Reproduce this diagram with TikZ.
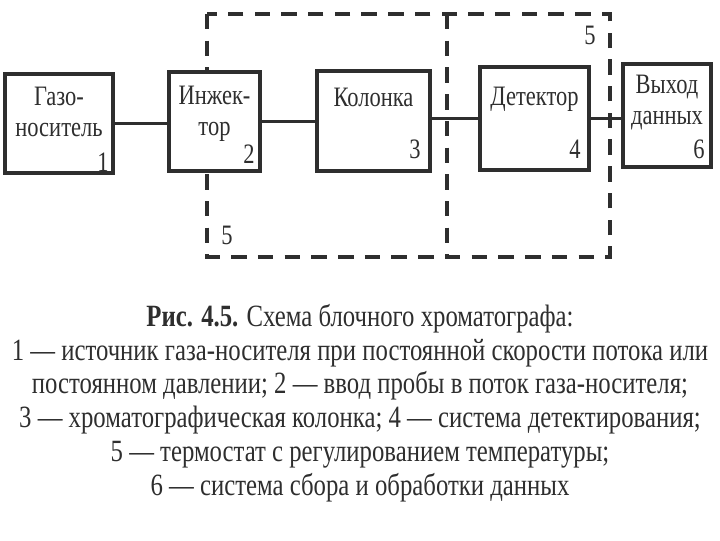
\documentclass[tikz,border=0pt]{standalone}
\usepackage{fontspec}
\setmainfont{Liberation Serif}[FakeStretch=0.8]
\usetikzlibrary{positioning}
\definecolor{ink}{HTML}{2E2E2E}

\begin{document}
\begin{tikzpicture}[x=0.025cm, y=-0.025cm,
  every node/.style={font=\fontsize{20}{22}\selectfont, text=ink},
  block/.style={draw=ink, fill=white, line width=2.8pt, inner sep=0pt},
  thermo/.style={draw=ink, line width=2.2pt, dash pattern=on 11pt off 8pt},
  link/.style={draw=ink, line width=2.2pt}]

\useasboundingbox[fill=white] (0,0) rectangle (720,540);

% thermostat 5 (dashed frame)
\coordinate (topleft) at (207,14);
\coordinate (topmid) at (447,14);
\coordinate (botmid) at (447,257);
\coordinate (botright) at (610,257);
\draw[thermo] (topleft) rectangle (botright);
\draw[thermo] (topmid) -- (botmid);
\node (thermoA) at (590,35) {5};
\node (thermoB) at (227,235) {5};

% carrier gas 1
\node[block, minimum width=2.7cm, minimum height=2.475cm] (gas) at (59,123.5) {};
\node[align=center, below=7pt of gas.north] (gastext) {Газо-\\носитель};
\node (gasnum) at ([shift={(-12,-13)}]gas.south east) {1};

% injector 2
\node[block, minimum width=2.275cm, minimum height=2.475cm] (injector) at (214.5,121.5) {};
\node[align=center, below=8pt of injector.north] (injtext) {Инжек-\\тор};
\node (injnum) at ([shift={(-13,-19)}]injector.south east) {2};

% column 3
\node[block, minimum width=2.825cm, minimum height=2.5cm] (column) at (373.5,121) {};
\node[below=10pt of column.north] (coltext) {Колонка};
\node (colnum) at ([shift={(-17,-24)}]column.south east) {3};

% detector 4
\node[block, minimum width=2.725cm, minimum height=2.575cm] (detector) at (534.5,118.5) {};
\node[below=12pt of detector.north] (dettext) {Детектор};
\node (detnum) at ([shift={(-16,-23)}]detector.south east) {4};

% data output 6
\node[block, minimum width=2.2cm, minimum height=2.575cm] (output) at (667,115.5) {};
\node[align=center, below=6pt of output.north] (outtext) {Выход\\данных};
\node (outnum) at ([shift={(-14,-20)}]output.south east) {6};

% gas line
\draw[link] (gas.east) -- (gas.east -| injector.west);
\draw[link] (injector.east) -- (injector.east -| column.west);
\draw[link] (detector.west -| column.east) -- (detector.west);
\draw[link] (detector.east) -- (detector.east -| output.west);

% caption
\node[align=center, font=\fontsize{22}{24}\selectfont] (caption) at (360,403) {\textbf{Рис. 4.5.} Схема блочного хроматографа:\\
  1 — источник газа-носителя при постоянной скорости потока или\\
  постоянном давлении; 2 — ввод пробы в поток газа-носителя;\\
  3 — хроматографическая колонка; 4 — система детектирования;\\
  5 — термостат с регулированием температуры;\\
  6 — система сбора и обработки данных};

\end{tikzpicture}
\end{document}
